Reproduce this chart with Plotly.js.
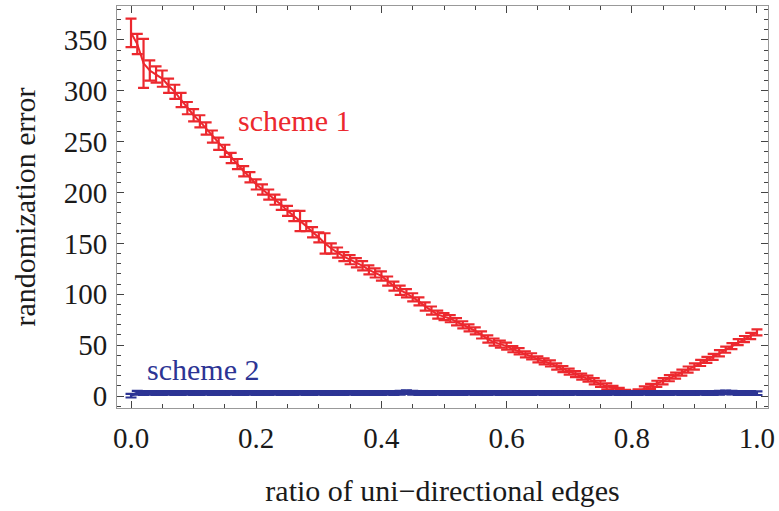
<!DOCTYPE html>
<html>
<head>
<meta charset="utf-8">
<script src="https://cdn.plot.ly/plotly-3.0.1.min.js"></script>
<style>html,body{margin:0;padding:0;background:#fff;}#chart{width:779px;height:511px;}</style>
</head>
<body>
<div id="chart"></div>
<script>
// x positions: ratio of uni-directional edges
const ratio = [0.00,0.01,0.02,0.03,0.04,0.05,0.06,0.07,0.08,0.09,
  0.10,0.11,0.12,0.13,0.14,0.15,0.16,0.17,0.18,0.19,
  0.20,0.21,0.22,0.23,0.24,0.25,0.26,0.27,0.28,0.29,
  0.30,0.31,0.32,0.33,0.34,0.35,0.36,0.37,0.38,0.39,
  0.40,0.41,0.42,0.43,0.44,0.45,0.46,0.47,0.48,0.49,
  0.50,0.51,0.52,0.53,0.54,0.55,0.56,0.57,0.58,0.59,
  0.60,0.61,0.62,0.63,0.64,0.65,0.66,0.67,0.68,0.69,
  0.70,0.71,0.72,0.73,0.74,0.75,0.76,0.77,0.78,0.79,
  0.80,0.81,0.82,0.83,0.84,0.85,0.86,0.87,0.88,0.89,
  0.90,0.91,0.92,0.93,0.94,0.95,0.96,0.97,0.98,0.99,1.00];

// scheme 1 randomization error and its error bars
const scheme1 = [357,346,327,320,316,312,305,299,291,283,
  276,270,263,255,248,241,234,228,221,215,
  208,203,198,193,188,182,177,172,167,161,
  156,150,145,141,137,134,131,128,124,121,
  118,113,108,104,101,97,93,88,84,80,
  78,76,73,70,67,64,60,56,53,51,
  49,46,44,41,39,36,34,32,29,26.5,
  24,21.5,19,17,14.5,12,9.5,7.5,5.5,4,
  3,4.5,7,9.5,12,14.5,17.5,20,23,26,
  29,32.5,35.5,38.5,42,45.5,49,53,56,59,62.5];
const scheme1Err = [14,10,24,10,8,8,7,7,7,6,
  6,6,6,6,6,6,5,5,5,5,
  5,5,5,5,5,5,5,10,5,5,
  5,10,5,5,4.5,4.5,4.5,4.5,4.5,4.5,
  4.5,4.5,4.5,4.5,4,4,4,4,4,4,
  3.5,3.5,3.5,3.5,3.5,3.5,3.5,3.5,3.5,3.5,
  3.5,3,3,3,3,3,3,3,3,3,
  3,3,3,3,3,3,3,2.5,2.5,2,
  2,2,2.5,2.5,3,3,3,3,3,3,
  3,3,3,3,3,3,3,3,3,3,3];

// scheme 2 randomization error and its error bars
const scheme2 = [0.3,3.2,3.0,3.1,3.0,3.0,3.1,3.0,3.0,3.1,
  3.0,3.0,3.1,3.0,3.0,3.0,3.1,3.0,3.0,3.1,
  3.0,3.0,3.0,3.1,3.0,3.0,3.0,3.1,3.0,3.0,
  3.1,3.0,3.0,3.0,3.0,3.1,3.0,3.0,3.0,3.0,
  3.0,3.1,3.0,3.2,3.8,3.2,3.0,3.0,3.0,3.1,
  3.0,3.0,3.0,3.0,3.1,3.0,3.0,3.0,3.1,3.0,
  3.0,3.0,3.0,3.0,3.0,3.1,3.0,3.0,3.0,3.0,
  3.0,3.1,3.0,3.0,3.0,3.0,3.0,3.1,3.0,3.0,
  3.0,3.0,3.1,3.0,3.0,3.0,3.0,3.1,3.0,3.0,
  3.0,3.1,3.0,3.0,3.2,3.6,3.3,3.0,3.0,3.0,2.8];
const scheme2Err = new Array(ratio.length).fill(1.8);

const xTickVals = [0, 0.2, 0.4, 0.6, 0.8, 1.0];
const xTickText = ["0.0", "0.2", "0.4", "0.6", "0.8", "1.0"];
const yTickVals = [0, 50, 100, 150, 200, 250, 300, 350];
const yTickText = ["0", "50", "100", "150", "200", "250", "300", "350"];

const RED = 'rgb(236,40,46)';
const BLUE = 'rgb(44,52,148)';
const FONT = '"Liberation Serif", "Times New Roman", serif';

const traces = [
  {
    x: ratio, y: scheme1, type: 'scatter', mode: 'lines', name: 'scheme 1',
    line: {color: RED, width: 2},
    error_y: {type: 'data', array: scheme1Err, visible: true, color: RED, thickness: 2.2, width: 5.5},
    hoverinfo: 'skip'
  },
  {
    x: ratio, y: scheme2, type: 'scatter', mode: 'lines', name: 'scheme 2',
    line: {color: BLUE, width: 2.5},
    error_y: {type: 'data', array: scheme2Err, visible: true, color: BLUE, thickness: 2.2, width: 5.5},
    hoverinfo: 'skip'
  }
];

const axisCommon = {
  showgrid: false, zeroline: false, showline: true, linecolor: '#999', linewidth: 1,
  mirror: 'ticks', ticks: 'inside', ticklen: 7, tickwidth: 1, tickcolor: '#444',
  tickfont: {family: FONT, size: 29, color: '#1a1a1a'}
};

const layout = {
  width: 779, height: 511,
  margin: {l: 117, r: 11, t: 6, b: 103},
  paper_bgcolor: '#fff', plot_bgcolor: '#fff',
  showlegend: false,
  xaxis: Object.assign({}, axisCommon, {
    range: [-0.0224, 1.0176], tickmode: 'array', tickvals: xTickVals, ticktext: xTickText,
    ticklabelstandoff: 4,
    minor: {tickmode: 'linear', tick0: 0, dtick: 0.05, ticks: 'inside', ticklen: 4, tickcolor: '#444', showgrid: false},
    title: {text: 'ratio of uni\u2212directional edges', font: {family: FONT, size: 30, color: '#1a1a1a'}, standoff: 27}
  }),
  yaxis: Object.assign({}, axisCommon, {
    range: [-11.8, 383.4], tickmode: 'array', tickvals: yTickVals, ticktext: yTickText,
    ticklabelstandoff: 3,
    minor: {tickmode: 'linear', tick0: 0, dtick: 10, ticks: 'inside', ticklen: 4, tickcolor: '#444', showgrid: false},
    title: {text: 'randomization error', font: {family: FONT, size: 30, color: '#1a1a1a'}, standoff: 19}
  }),
  annotations: [
    {x: 0.26, y: 271, xref: 'x', yref: 'y', text: 'scheme 1', showarrow: false,
     font: {family: FONT, size: 30, color: RED}, xanchor: 'center', yanchor: 'middle'},
    {x: 0.115, y: 25.6, xref: 'x', yref: 'y', text: 'scheme 2', showarrow: false,
     font: {family: FONT, size: 30, color: BLUE}, xanchor: 'center', yanchor: 'middle'}
  ]
};

Plotly.newPlot('chart', traces, layout, {staticPlot: true, displayModeBar: false});
</script>
</body>
</html>
